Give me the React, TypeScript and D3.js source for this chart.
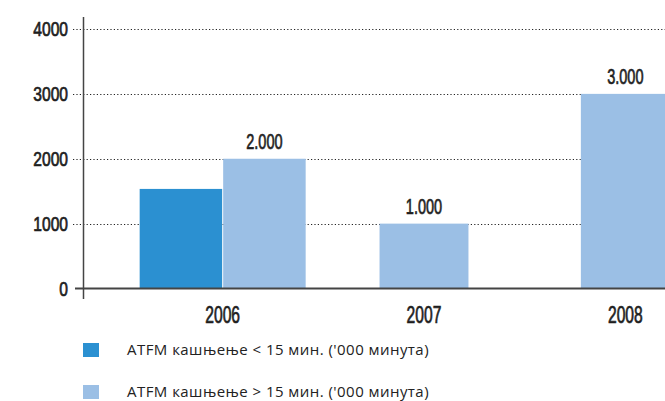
import React from 'react'
import * as d3 from 'd3'

const width = 665
const height = 401

// categories and series
const years = ['2006', '2007', '2008']
const seriesKeys = ['under15', 'over15']
const seriesNames = [
  "ATFM кашњење < 15 мин. ('000 минута)",
  "ATFM кашњење > 15 мин. ('000 минута)",
]
const seriesColors = ['#2b90d1', '#9bbfe5']

// values per year, null where the bar is missing
const under15 = [1535, null, null]
const over15 = [2000, 1000, 3000]

const yTicks = [0, 1000, 2000, 3000, 4000]

// no condensed face installed, so squeeze Liberation Sans horizontally
// and thicken it a little with a hairline stroke
const labelFont = '"Liberation Sans", Arial, sans-serif'
const legendFont = '"Open Sans", "Noto Sans", sans-serif'
const ink = '#1e1e1e'

const euro = d3.formatLocale({ decimal: ',', thousands: '.', grouping: [3], currency: ['', ''] })
const fmtValue = euro.format(',')

export default function App() {
  const y = d3.scaleLinear().domain([0, 4000]).range([288.5, 29])
  const x = d3.scaleBand().domain(years).range([122, 726]).paddingInner(0).paddingOuter(0)

  const axisX = 83.5
  const values = [under15, over15]

  const bars: any[] = []
  years.forEach((year, i) => {
    const present = seriesKeys.filter((_, s) => values[s][i] != null)
    const groupWidth = present.length > 1 ? 166 : 90
    const center = (x(year) as number) + x.bandwidth() / 2
    const inner = d3.scaleBand()
      .domain(present)
      .range([center - groupWidth / 2, center + groupWidth / 2])
      .paddingInner(0.012)
    present.forEach(key => {
      const s = seriesKeys.indexOf(key)
      const v = values[s][i] as number
      bars.push({ year, key, s, v, x0: inner(key) as number, w: inner.bandwidth() })
    })
  })

  const labelProps = {
    fontFamily: labelFont,
    fill: ink,
    stroke: ink,
    strokeWidth: 0.7,
    textAnchor: 'middle' as const,
  }

  return (
    <svg width={width} height={height} style={{ position: 'absolute', left: 0, top: 0, display: 'block' }}>
      <rect width={width} height={height} fill="#fff" />

      {/* dotted gridlines */}
      {yTicks.filter(t => t > 0).map(t => (
        <line key={t} x1={73} x2={width} y1={Math.round(y(t)) + 0.5} y2={Math.round(y(t)) + 0.5}
          stroke="#222" strokeWidth={1.2} strokeDasharray="1.2 2.2" />
      ))}

      {/* bars */}
      {bars.map(b => (
        <rect key={b.year + b.key} x={b.x0} y={y(b.v)} width={b.w} height={y(0) - y(b.v)}
          fill={seriesColors[b.s]} />
      ))}

      {/* value labels on the > 15 min series */}
      {bars.filter(b => b.key === 'over15').map(b => (
        <text key={'v' + b.year} transform={`translate(${b.x0 + b.w / 2},${y(b.v) - 9.5}) scale(0.66,1)`}
          {...labelProps} fontSize={22}>
          {fmtValue(b.v)}
        </text>
      ))}

      {/* axes */}
      <line x1={axisX} x2={axisX} y1={17} y2={299} stroke="#444" strokeWidth={1.5} />
      <line x1={75} x2={width} y1={y(0)} y2={y(0)} stroke="#444" strokeWidth={2} />

      {yTicks.map(t => (
        <text key={t} transform={`translate(68,${y(t)}) scale(0.8,1)`} dy="0.36em"
          {...labelProps} textAnchor="end" fontSize={19.5}>
          {t}
        </text>
      ))}

      {years.map(year => (
        <text key={year} transform={`translate(${(x(year) as number) + x.bandwidth() / 2},323) scale(0.68,1)`}
          {...labelProps} fontSize={23}>
          {year}
        </text>
      ))}

      {/* legend */}
      {seriesNames.map((name, s) => (
        <g key={name} transform={`translate(83,${343 + s * 42})`}>
          <rect width={16} height={14} fill={seriesColors[s]} />
          <text x={44} y={7} dy="0.35em" fontFamily={legendFont} fontSize={15}
            letterSpacing={0.45} fill="#222">
            {name}
          </text>
        </g>
      ))}
    </svg>
  )
}
